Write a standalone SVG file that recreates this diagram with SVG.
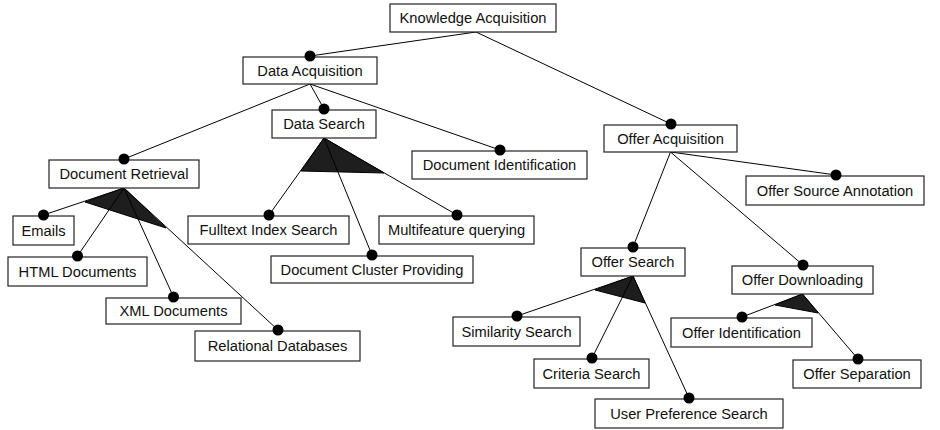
<svg xmlns="http://www.w3.org/2000/svg" width="940" height="430" viewBox="0 0 940 430">
<style>
  .box { fill: #ffffff; stroke: #222222; stroke-width: 1.2; }
  .lbl { font-family: "Liberation Sans", Arial, sans-serif; font-size: 14.7px; fill: #111111; text-anchor: middle; }
  .ln { stroke: #000000; stroke-width: 1; fill: none; }
  .grp { fill: #1e1e1e; stroke: #000000; stroke-width: 1; }
  .dot { fill: #000000; }
</style>
<rect width="940" height="430" fill="#ffffff"/>
<g id="connectors">
  <line class="ln" x1="476" y1="32" x2="310" y2="56"/>
  <line class="ln" x1="476" y1="32" x2="671" y2="124"/>
  <line class="ln" x1="310" y1="84" x2="124" y2="159"/>
  <line class="ln" x1="310" y1="84" x2="324" y2="109"/>
  <line class="ln" x1="310" y1="84" x2="500" y2="150"/>
  <polygon class="grp" points="124,188 85,202 166,228"/>
  <line class="ln" x1="124" y1="188" x2="43.5" y2="215"/>
  <line class="ln" x1="124" y1="188" x2="77.5" y2="256"/>
  <line class="ln" x1="124" y1="188" x2="173.5" y2="297"/>
  <line class="ln" x1="124" y1="188" x2="278" y2="330"/>
  <polygon class="grp" points="324,138 301,171 384,173"/>
  <line class="ln" x1="324" y1="138" x2="269" y2="215"/>
  <line class="ln" x1="324" y1="138" x2="372" y2="255"/>
  <line class="ln" x1="324" y1="138" x2="457" y2="215"/>
  <line class="ln" x1="670.5" y1="152" x2="633" y2="247"/>
  <line class="ln" x1="670.5" y1="152" x2="803" y2="265"/>
  <line class="ln" x1="670.5" y1="152" x2="836" y2="175"/>
  <polygon class="grp" points="633,276 595,290 645,303"/>
  <line class="ln" x1="633" y1="276" x2="517" y2="316"/>
  <line class="ln" x1="633" y1="276" x2="592" y2="358"/>
  <line class="ln" x1="633" y1="276" x2="689" y2="398"/>
  <polygon class="grp" points="802.5,294 775,305 818,313"/>
  <line class="ln" x1="802.5" y1="294" x2="742" y2="317"/>
  <line class="ln" x1="802.5" y1="294" x2="858" y2="359"/>
</g>
<g id="knowledge-acquisition">
  <rect class="box" x="390" y="4" width="166" height="28"/>
  <text class="lbl" x="473" y="23">Knowledge Acquisition</text>
</g>
<g id="data-acquisition">
  <rect class="box" x="243" y="57" width="134" height="27"/>
  <text class="lbl" x="310" y="75.5">Data Acquisition</text>
  <circle class="dot" cx="310" cy="56" r="5.5"/>
</g>
<g id="data-search">
  <rect class="box" x="272" y="110" width="104" height="28"/>
  <text class="lbl" x="324" y="129">Data Search</text>
  <circle class="dot" cx="324" cy="109" r="5.5"/>
</g>
<g id="document-retrieval">
  <rect class="box" x="49" y="160" width="150" height="28"/>
  <text class="lbl" x="124" y="179">Document Retrieval</text>
  <circle class="dot" cx="124" cy="159" r="5.5"/>
</g>
<g id="document-identification">
  <rect class="box" x="412" y="151" width="175" height="28"/>
  <text class="lbl" x="499.5" y="170">Document Identification</text>
  <circle class="dot" cx="500" cy="150" r="5.5"/>
</g>
<g id="emails">
  <rect class="box" x="13" y="216" width="61" height="29"/>
  <text class="lbl" x="43.5" y="235.5">Emails</text>
  <circle class="dot" cx="43.5" cy="215" r="5.5"/>
</g>
<g id="html-documents">
  <rect class="box" x="8" y="257" width="139" height="29"/>
  <text class="lbl" x="77.5" y="276.5">HTML Documents</text>
  <circle class="dot" cx="77.5" cy="256" r="5.5"/>
</g>
<g id="xml-documents">
  <rect class="box" x="106" y="298" width="135" height="26"/>
  <text class="lbl" x="173.5" y="316">XML Documents</text>
  <circle class="dot" cx="173.5" cy="297" r="5.5"/>
</g>
<g id="relational-databases">
  <rect class="box" x="195" y="331" width="165" height="30"/>
  <text class="lbl" x="277.5" y="351">Relational Databases</text>
  <circle class="dot" cx="278" cy="330" r="5.5"/>
</g>
<g id="fulltext-index-search">
  <rect class="box" x="188" y="216" width="161" height="28"/>
  <text class="lbl" x="268.5" y="235">Fulltext Index Search</text>
  <circle class="dot" cx="269" cy="215" r="5.5"/>
</g>
<g id="multifeature-querying">
  <rect class="box" x="379" y="216" width="155" height="28"/>
  <text class="lbl" x="456.5" y="235">Multifeature querying</text>
  <circle class="dot" cx="457" cy="215" r="5.5"/>
</g>
<g id="document-cluster-providing">
  <rect class="box" x="271" y="256" width="202" height="27"/>
  <text class="lbl" x="372" y="274.5">Document Cluster Providing</text>
  <circle class="dot" cx="372" cy="255" r="5.5"/>
</g>
<g id="offer-acquisition">
  <rect class="box" x="604" y="125" width="133" height="27"/>
  <text class="lbl" x="670.5" y="143.5">Offer Acquisition</text>
  <circle class="dot" cx="671" cy="124" r="5.5"/>
</g>
<g id="offer-source-annotation">
  <rect class="box" x="746" y="176" width="178" height="29"/>
  <text class="lbl" x="835" y="195.5">Offer Source Annotation</text>
  <circle class="dot" cx="836" cy="175" r="5.5"/>
</g>
<g id="offer-search">
  <rect class="box" x="581" y="248" width="104" height="28"/>
  <text class="lbl" x="633" y="267">Offer Search</text>
  <circle class="dot" cx="633" cy="247" r="5.5"/>
</g>
<g id="offer-downloading">
  <rect class="box" x="732" y="266" width="141" height="28"/>
  <text class="lbl" x="802.5" y="285">Offer Downloading</text>
  <circle class="dot" cx="803" cy="265" r="5.5"/>
</g>
<g id="similarity-search">
  <rect class="box" x="453" y="317" width="127" height="29"/>
  <text class="lbl" x="516.5" y="336.5">Similarity Search</text>
  <circle class="dot" cx="517" cy="316" r="5.5"/>
</g>
<g id="criteria-search">
  <rect class="box" x="534" y="359" width="115" height="29"/>
  <text class="lbl" x="591.5" y="378.5">Criteria Search</text>
  <circle class="dot" cx="592" cy="358" r="5.5"/>
</g>
<g id="user-preference-search">
  <rect class="box" x="595" y="399" width="188" height="29"/>
  <text class="lbl" x="689" y="418.5">User Preference Search</text>
  <circle class="dot" cx="689" cy="398" r="5.5"/>
</g>
<g id="offer-identification">
  <rect class="box" x="671" y="318" width="141" height="29"/>
  <text class="lbl" x="741.5" y="337.5">Offer Identification</text>
  <circle class="dot" cx="742" cy="317" r="5.5"/>
</g>
<g id="offer-separation">
  <rect class="box" x="793" y="360" width="128" height="28"/>
  <text class="lbl" x="857" y="379">Offer Separation</text>
  <circle class="dot" cx="858" cy="359" r="5.5"/>
</g>
</svg>
